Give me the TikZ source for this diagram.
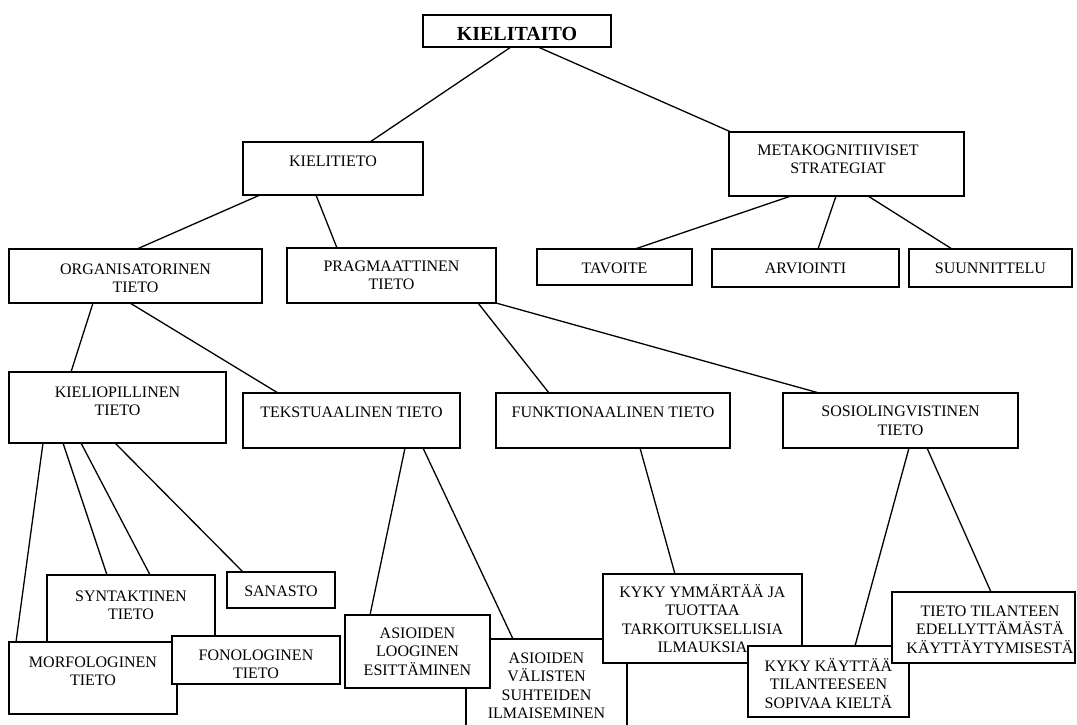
\documentclass[tikz,border=0pt]{standalone}
\usepackage{fontspec}
\setmainfont{Liberation Serif}
\pgfdeclarelayer{bg}
\pgfsetlayers{bg,main}
\newcommand{\tlines}[1]{\parbox[t]{320pt}{\centering #1}}
\begin{document}
\begin{tikzpicture}[x=1pt,y=-1pt,
  bx/.style={draw, fill=white, line width=1.6pt, inner sep=0pt, outer sep=0pt, anchor=north west},
  tx/.style={anchor=base, inner sep=0pt, outer sep=0pt, font=\fontsize{16}{18.6}\selectfont},
  conn/.style={line width=1.3pt}]
\clip (0,0) rectangle (1077,725);
\begin{pgfonlayer}{bg}
\fill[white] (0,0) rectangle (1077,725);
\end{pgfonlayer}
% level 0
\node[bx, minimum width=188pt, minimum height=32pt] (kt) at (423,15) {};
\node[tx, font=\fontsize{20}{24}\selectfont\bfseries] (kt-t) at (517,41) {\tlines{KIELITAITO}};
% level 1
\node[bx, minimum width=180pt, minimum height=53pt] (kl) at (243,142) {};
\node[tx] (kl-t) at (333,166) {\tlines{KIELITIETO}};
\node[bx, minimum width=235pt, minimum height=64pt] (mk) at (729,132) {};
\node[tx] (mk-t) at (838,155) {\tlines{METAKOGNITIIVISET\\STRATEGIAT}};
% level 2
\node[bx, minimum width=253pt, minimum height=54pt] (og) at (9,249) {};
\node[tx] (og-t) at (135.5,274) {\tlines{ORGANISATORINEN\\TIETO}};
\node[bx, minimum width=209pt, minimum height=55pt] (pr) at (287,248) {};
\node[tx] (pr-t) at (391.5,271) {\tlines{PRAGMAATTINEN\\TIETO}};
\node[bx, minimum width=155pt, minimum height=36pt] (ta) at (537,249) {};
\node[tx] (ta-t) at (614.5,273) {\tlines{TAVOITE}};
\node[bx, minimum width=187pt, minimum height=38pt] (ar) at (712,249) {};
\node[tx] (ar-t) at (805.5,273) {\tlines{ARVIOINTI}};
\node[bx, minimum width=163pt, minimum height=38pt] (su) at (909,249) {};
\node[tx] (su-t) at (990.5,273) {\tlines{SUUNNITTELU}};
% level 3
\node[bx, minimum width=217pt, minimum height=71pt] (ko) at (9,372) {};
\node[tx] (ko-t) at (117.5,397) {\tlines{KIELIOPILLINEN\\TIETO}};
\node[bx, minimum width=217pt, minimum height=55pt] (te) at (243,393) {};
\node[tx] (te-t) at (351.5,417) {\tlines{TEKSTUAALINEN TIETO}};
\node[bx, minimum width=234pt, minimum height=55pt] (fu) at (496,393) {};
\node[tx] (fu-t) at (613,417) {\tlines{FUNKTIONAALINEN TIETO}};
\node[bx, minimum width=235pt, minimum height=55pt] (so) at (783,393) {};
\node[tx] (so-t) at (900.5,416.5) {\tlines{SOSIOLINGVISTINEN\\TIETO}};
% level 4
\node[bx, minimum width=168pt, minimum height=75pt] (sy) at (47,575) {};
\node[tx] (sy-t) at (131,601) {\tlines{SYNTAKTINEN\\TIETO}};
\node[bx, minimum width=168pt, minimum height=72pt] (mo) at (9,642) {};
\node[tx] (mo-t) at (93,667) {\tlines{MORFOLOGINEN\\TIETO}};
\node[bx, minimum width=168pt, minimum height=48pt] (fo) at (172,636) {};
\node[tx] (fo-t) at (256,660) {\tlines{FONOLOGINEN\\TIETO}};
\node[bx, minimum width=108pt, minimum height=36pt] (sa) at (227,572) {};
\node[tx] (sa-t) at (281,596) {\tlines{SANASTO}};
\node[bx, minimum width=161pt, minimum height=106pt] (av) at (466,639) {};
\node[tx] (av-t) at (546.5,663) {\tlines{ASIOIDEN\\VÄLISTEN\\SUHTEIDEN\\ILMAISEMINEN}};
\node[bx, minimum width=145pt, minimum height=73pt] (al) at (345,615) {};
\node[tx] (al-t) at (417.5,638) {\tlines{ASIOIDEN\\LOOGINEN\\ESITTÄMINEN}};
\node[bx, minimum width=199pt, minimum height=89pt] (ky) at (603,574) {};
\node[tx] (ky-t) at (702.5,597) {\tlines{KYKY YMMÄRTÄÄ JA\\TUOTTAA\\TARKOITUKSELLISIA\\ILMAUKSIA}};
\node[bx, minimum width=161pt, minimum height=71pt] (kk) at (748,646) {};
\node[tx] (kk-t) at (828.5,671) {\tlines{KYKY KÄYTTÄÄ\\TILANTEESEEN\\SOPIVAA KIELTÄ}};
\node[bx, minimum width=183pt, minimum height=71pt] (tt) at (892,592) {};
\node[tx] (tt-t) at (990,616) {\tlines{TIETO TILANTEEN\\EDELLYTTÄMÄSTÄ\\KÄYTTÄYTYMISESTÄ}};
% connectors
\begin{pgfonlayer}{bg}
\draw[conn] ([xshift=88pt]kt.south west) -- ([xshift=127pt]kl.north west);
\draw[conn] ([xshift=115pt]kt.south west) -- ([xshift=2pt]mk.north west);
\draw[conn] ([xshift=17pt]kl.south west) -- ([xshift=128pt]og.north west);
\draw[conn] ([xshift=73pt]kl.south west) -- ([xshift=50pt]pr.north west);
\draw[conn] ([xshift=62pt]mk.south west) -- ([xshift=98pt]ta.north west);
\draw[conn] ([xshift=107pt]mk.south west) -- ([xshift=106pt]ar.north west);
\draw[conn] ([xshift=139pt]mk.south west) -- ([xshift=43pt]su.north west);
\draw[conn] ([xshift=84pt]og.south west) -- ([xshift=62pt]ko.north west);
\draw[conn] ([xshift=121pt]og.south west) -- ([xshift=35pt]te.north west);
\draw[conn] ([xshift=191pt]pr.south west) -- ([xshift=53pt]fu.north west);
\draw[conn] (pr.south east) -- ([xshift=36pt]so.north west);
\draw[conn] ([xshift=34pt]ko.south west) -- ([xshift=7pt]mo.north west);
\draw[conn] ([xshift=54pt]ko.south west) -- ([xshift=60pt]sy.north west);
\draw[conn] ([xshift=72pt]ko.south west) -- ([xshift=10pt]fo.north west);
\draw[conn] ([xshift=106pt]ko.south west) -- ([xshift=16pt]sa.north west);
\draw[conn] ([xshift=162pt]te.south west) -- ([xshift=25pt]al.north west);
\draw[conn] ([xshift=180pt]te.south west) -- ([xshift=47pt]av.north west);
\draw[conn] ([xshift=144pt]fu.south west) -- ([xshift=72pt]ky.north west);
\draw[conn] ([xshift=126pt]so.south west) -- ([xshift=107pt]kk.north west);
\draw[conn] ([xshift=144pt]so.south west) -- ([xshift=99pt]tt.north west);
\end{pgfonlayer}
\end{tikzpicture}
\end{document}
